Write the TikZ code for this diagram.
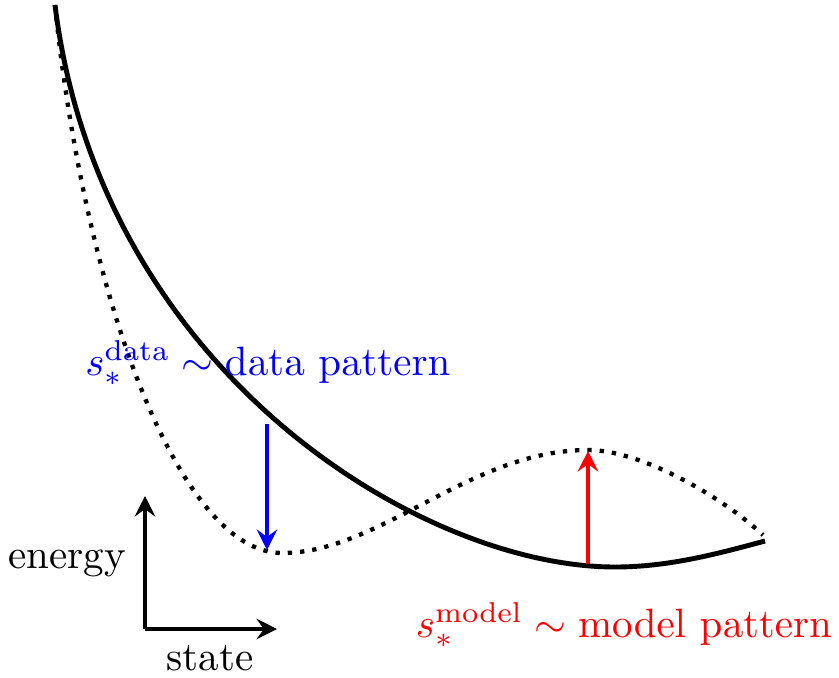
\documentclass[tikz,border=0pt]{standalone}
\usetikzlibrary{arrows.meta}
\begin{document}
\begin{tikzpicture}[x=0.2439pt,y=-0.2439pt,
  curve/.style={line width=1.2pt},
  dotcurve/.style={line width=1.05pt, dash pattern=on 1.05pt off 1.95pt},
  arr/.style={line width=1.15pt, -{Stealth[length=5pt,width=5pt,inset=1.8pt]}},
  lab/.style={inner sep=0pt, anchor=base}]
\useasboundingbox (0,0) rectangle (839,677);
% coordinates
\coordinate (top) at (55,5);
\coordinate (smin) at (615,567);
\coordinate (send) at (765,541);
\coordinate (dmin) at (282,553);
\coordinate (dmax) at (588,450);
\coordinate (dend) at (763,535);
\coordinate (bs) at (267,424);
\coordinate (be) at (267,550);
\coordinate (rs) at (588,564);
\coordinate (re) at (588,451);
\coordinate (o) at (145,629);
\coordinate (ey) at (145,496);
\coordinate (ex) at (277,629);
% solid energy curve
\draw[curve] (top) .. controls (100,370) and (420,567) .. (smin)
  .. controls (670,567) and (720,553) .. (send);
% dotted energy curve
\draw[dotcurve] (top) .. controls (85,300) and (180,553) .. (dmin)
  .. controls (380,553) and (470,450) .. (dmax)
  .. controls (640,450) and (720,495) .. (dend);
% arrows
\draw[arr, blue] (bs) -- (be);
\draw[arr, red] (rs) -- (re);
% axes
\draw[arr, black] (o) -- (ey);
\draw[arr, black] (o) -- (ex);
% labels
\node[lab] (energy) at (67,568) {energy};
\node[lab] (state) at (210,670) {state};
\node[lab, text=blue] (datalab) at (268,375) {$s_*^{\mathrm{data}}\sim\mathrm{data\ pattern}$};
\node[lab, text=red] (modellab) at (624,637) {$s_*^{\mathrm{model}}\sim\mathrm{model\ pattern}$};
\end{tikzpicture}
\end{document}
